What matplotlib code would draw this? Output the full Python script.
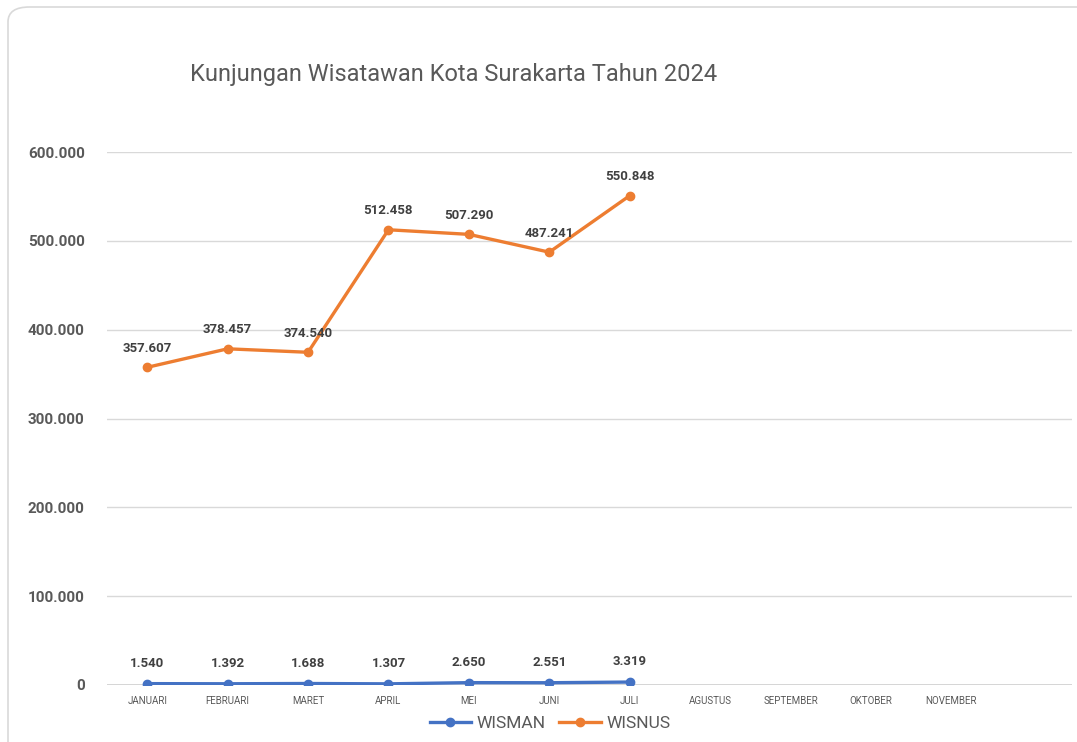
import matplotlib
matplotlib.use("Agg")
import matplotlib.pyplot as plt
from matplotlib.patches import FancyBboxPatch
from matplotlib.ticker import FuncFormatter

# data
months = ["JANUARI", "FEBRUARI", "MARET", "APRIL", "MEI", "JUNI", "JULI",
          "AGUSTUS", "SEPTEMBER", "OKTOBER", "NOVEMBER", ""]
wisman = [1540, 1392, 1688, 1307, 2650, 2551, 3319]
wisnus = [357607, 378457, 374540, 512458, 507290, 487241, 550848]
y_ticks = [0, 100000, 200000, 300000, 400000, 500000, 600000]

BLUE = "#4472C4"
ORANGE = "#ED7D31"
GREY = "#595959"
FONT = ["Roboto", "DejaVu Sans"]


def dotted(v):
    return f"{int(v):,}".replace(",", ".")


fig = plt.figure(figsize=(10.77, 7.42), dpi=100)

# chart card outline (cut off on the right/bottom in the reference)
card = FancyBboxPatch((8 / 1077, -0.05), 1.2, 1 - 7 / 742 + 0.05,
                      boxstyle="round,pad=0,rounding_size=0.02",
                      transform=fig.transFigure, facecolor="none",
                      edgecolor="#d9d9d9", linewidth=1.2, zorder=5)
fig.patches.append(card)

ax = fig.add_axes([107 / 1077, 57 / 742, 965 / 1077, 533 / 742])
ax.set_facecolor("none")

x = list(range(len(months)))
ax.plot(x[:len(wisman)], wisman, color=BLUE, lw=2.4, marker="o", ms=6,
        label="WISMAN", zorder=3)
ax.plot(x[:len(wisnus)], wisnus, color=ORANGE, lw=2.4, marker="o", ms=6,
        label="WISNUS", zorder=3)

for xi, v in zip(x, wisman):
    ax.annotate(dotted(v), (xi, v), xytext=(0, 10), textcoords="offset points",
                ha="center", va="bottom", fontsize=9.5, fontweight="bold",
                color="#404040", family=FONT)
for xi, v in zip(x, wisnus):
    ax.annotate(dotted(v), (xi, v), xytext=(0, 9), textcoords="offset points",
                ha="center", va="bottom", fontsize=9.5, fontweight="bold",
                color="#404040", family=FONT)

ax.set_xlim(-0.5, len(months) - 0.5)
ax.set_ylim(0, 600000)
ax.set_yticks(y_ticks)
ax.yaxis.set_major_formatter(FuncFormatter(lambda v, p: dotted(v)))
ax.set_xticks(x)
ax.set_xticklabels(months)
ax.grid(axis="y", color="#d9d9d9", lw=1)
ax.axhline(0, color="#d0d0d0", lw=1.2, zorder=1)
ax.set_axisbelow(True)
for s in ax.spines.values():
    s.set_visible(False)
ax.tick_params(length=0)
ax.tick_params(axis="y", pad=16, labelsize=11, labelcolor=GREY)
ax.tick_params(axis="x", pad=8, labelsize=7, labelcolor=GREY)
for lab in ax.get_yticklabels():
    lab.set_family(FONT)
    lab.set_fontweight("bold")
for lab in ax.get_xticklabels():
    lab.set_family(FONT)
    lab.set_fontstretch("condensed")

fig.text(190 / 1077, 1 - 75 / 742, "Kunjungan Wisatawan Kota Surakarta Tahun 2024",
         fontsize=17, color=GREY, family=FONT, va="center", ha="left")

leg = ax.legend(loc="center", bbox_to_anchor=(550 / 1077, 19 / 742),
                bbox_transform=fig.transFigure, ncol=2, frameon=False,
                fontsize=12.5, handlelength=2.4, columnspacing=0.8,
                handletextpad=0.3, labelcolor=GREY)
for t in leg.get_texts():
    t.set_family(FONT)

fig.savefig("out.png", dpi=100)
